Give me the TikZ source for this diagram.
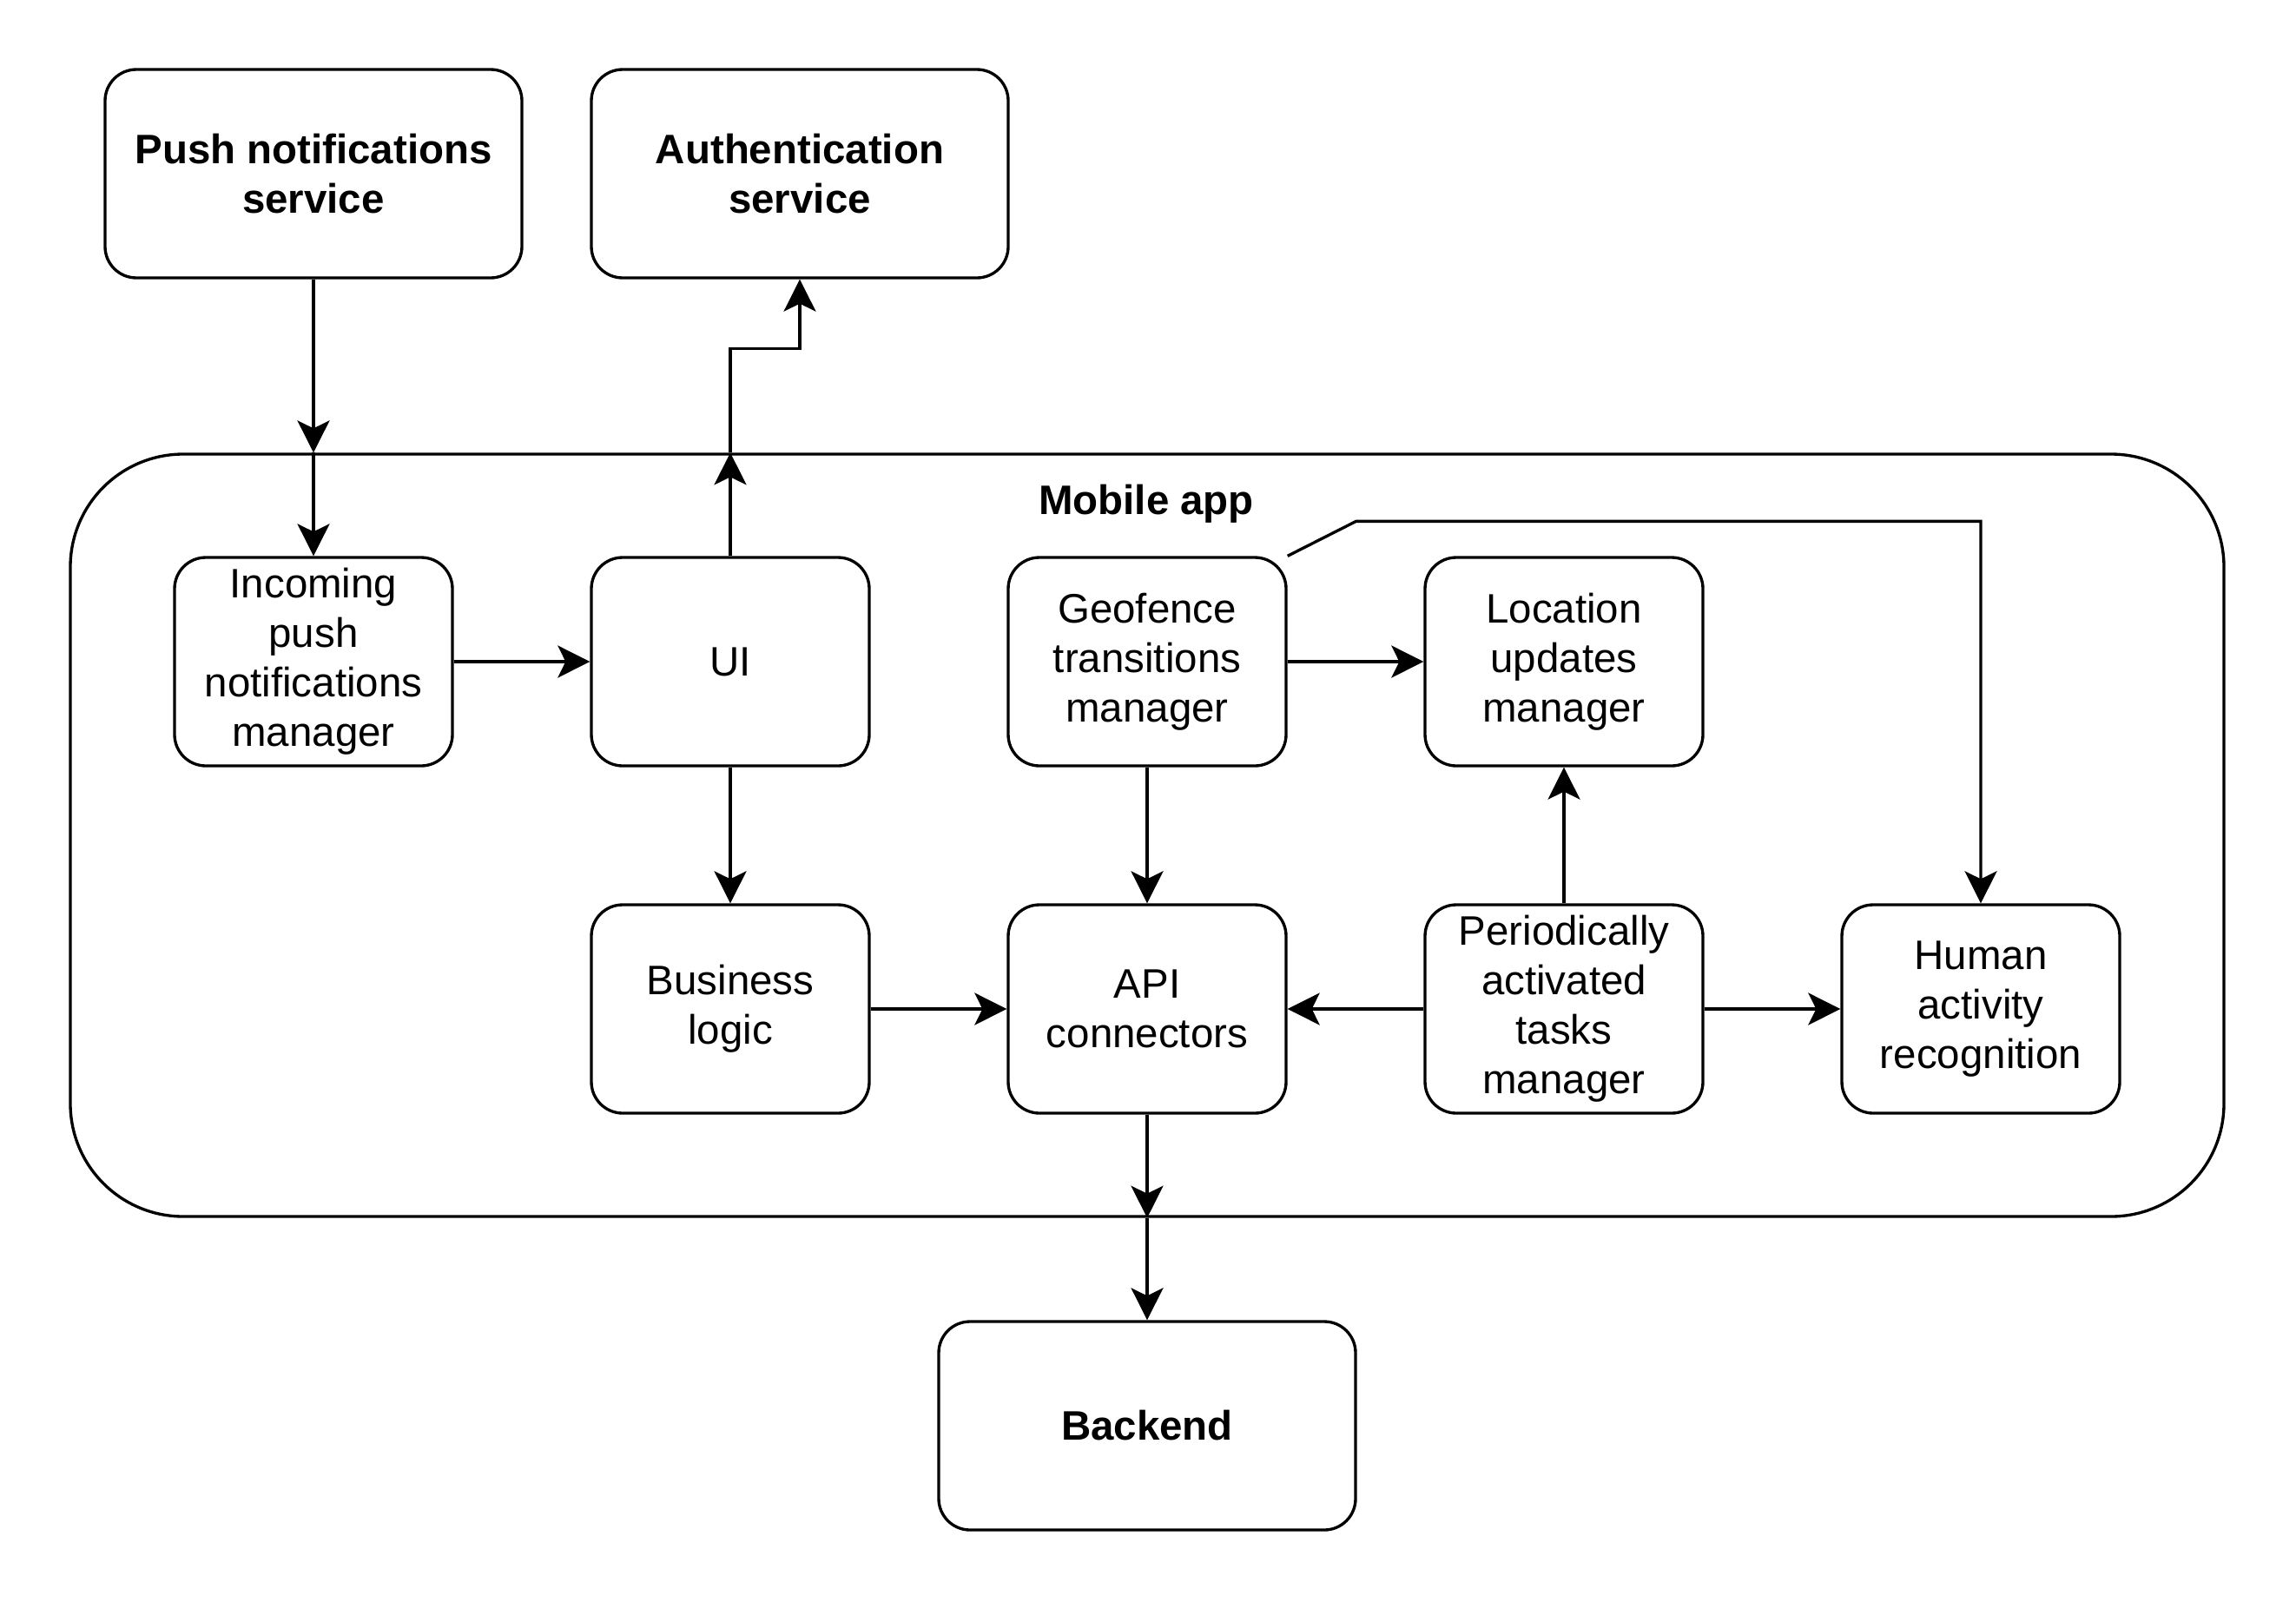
\documentclass[tikz,border=0pt]{standalone}
\usepackage{fontspec}
\setmainfont{Liberation Sans}
\usepackage{tikz}
\usetikzlibrary{positioning, arrows.meta}
\tikzset{
    base/.style={
        font=\fontsize{13.5}{16.2}\selectfont,
        align=center
    },
    module/.style={
        base,
        rectangle,
        rounded corners=3.6mm,
        draw=black,
        line width=0.95pt,
        minimum width=3.2cm,
        minimum height=2.4cm,
        inner sep=1mm
    },
    service/.style={
        module,
        font=\fontsize{13.5}{16.2}\selectfont\bfseries,
        minimum width=4.8cm
    },
    container/.style={
        rectangle,
        rounded corners=13mm,
        draw=black,
        line width=0.95pt,
        minimum width=24.8cm,
        minimum height=8.78cm
    },
    heading/.style={
        base,
        font=\fontsize{13.5}{16.2}\selectfont\bfseries
    },
    flow/.style={
        -{Stealth[length=3.7mm, width=3.7mm, inset=0.9mm]},
        line width=0.95pt,
        color=black
    }
}

\begin{document}
\begin{tikzpicture}[node distance=4.0cm and 4.8cm, on grid]
  \useasboundingbox (0,0) rectangle (26.44,-18.44);

  % Mobile app frame
  \node[container] (app) at (13.21,-9.62) {};
  \node[heading] (apptitle) at (13.20,-5.80) {Mobile app};

  % Upper row
  \node[module] (inc) at (3.61,-7.62) {Incoming\\push\\notifications\\manager};
  \node[module, right=of inc] (ui) {UI};
  \node[module, right=of ui] (geo) {Geofence\\transitions\\manager};
  \node[module, right=of geo] (loc) {Location\\updates\\manager};

  % Lower row
  \node[module, below=of ui] (biz) {Business\\logic};
  \node[module, right=of biz] (api) {API\\connectors};
  \node[module, right=of api] (per) {Periodically\\activated\\tasks\\manager};
  \node[module, right=of per] (har) {Human\\activity\\recognition};

  % Outside services
  \node[service] (push) at (3.61,-2.00) {Push notifications\\service};
  \node[service] (auth) at (9.21,-2.00) {Authentication\\service};
  \node[service, below=4.8cm of api] (backend) {Backend};

  % Points where connectors cross the frame
  \coordinate (pushin) at (inc |- app.north);
  \coordinate (uiout) at (ui |- app.north);
  \coordinate (apiout) at (api |- app.south);

  % Connectors
  \draw[flow] (push) -- (pushin);
  \draw[flow] (pushin) -- (inc);
  \draw[flow] (ui) -- (uiout);
  \draw[flow] (uiout) -- ++(0,1.2) -| (auth.south);
  \draw[flow] (inc) -- (ui);
  \draw[flow] (ui) -- (biz);
  \draw[flow] (geo) -- (loc);
  \draw[flow] (geo) -- (api);
  \draw[flow] (geo.north east) -- ++(0.79,0.40) -| (har.north);
  \draw[flow] (biz) -- (api);
  \draw[flow] (per) -- (api);
  \draw[flow] (per) -- (loc);
  \draw[flow] (per) -- (har);
  \draw[flow] (api) -- (apiout);
  \draw[flow] (apiout) -- (backend);
\end{tikzpicture}
\end{document}
